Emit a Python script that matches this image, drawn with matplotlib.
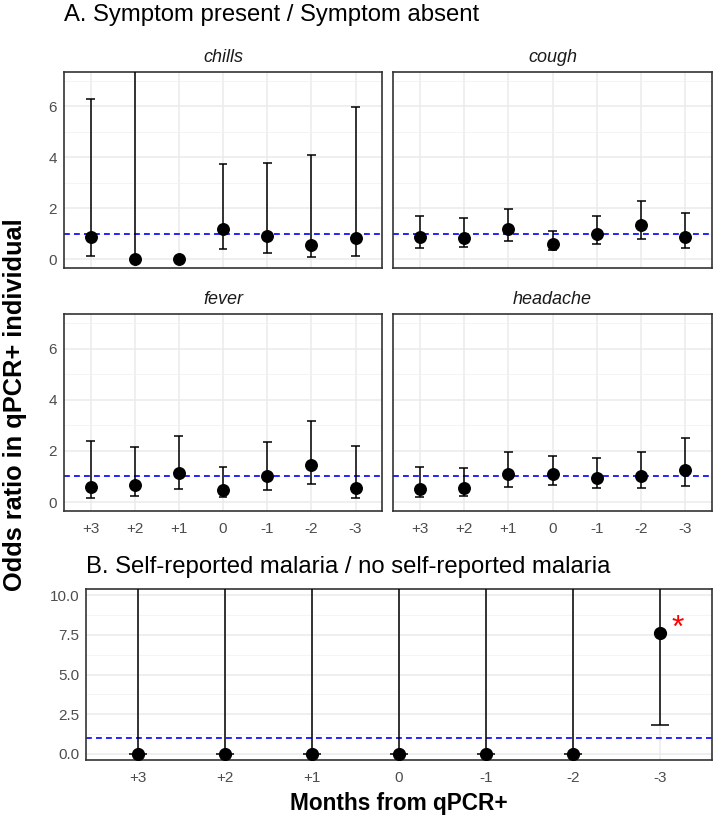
import numpy as np
import matplotlib.pyplot as plt

plt.rcParams['font.family'] = ['Liberation Sans', 'DejaVu Sans']

months = ["+3", "+2", "+1", "0", "-1", "-2", "-3"]

# odds ratio, lower CI, upper CI (inf = runs off the panel, nan = no interval)
chills_or = [0.87, 0.0, 0.0, 1.18, 0.92, 0.56, 0.82]
chills_lo = [0.14, 0.0, np.nan, 0.40, 0.23, 0.10, 0.14]
chills_hi = [6.30, np.inf, np.nan, 3.72, 3.78, 4.08, 5.96]

cough_or = [0.85, 0.83, 1.18, 0.61, 1.00, 1.32, 0.85]
cough_lo = [0.43, 0.46, 0.72, 0.36, 0.59, 0.77, 0.43]
cough_hi = [1.69, 1.61, 1.98, 1.09, 1.71, 2.28, 1.80]

fever_or = [0.58, 0.67, 1.14, 0.49, 1.02, 1.46, 0.54]
fever_lo = [0.16, 0.23, 0.52, 0.21, 0.47, 0.70, 0.16]
fever_hi = [2.37, 2.14, 2.60, 1.36, 2.34, 3.16, 2.18]

headache_or = [0.51, 0.56, 1.09, 1.11, 0.93, 1.02, 1.26]
headache_lo = [0.19, 0.23, 0.60, 0.67, 0.53, 0.54, 0.62]
headache_hi = [1.37, 1.33, 1.96, 1.81, 1.71, 1.97, 2.49]

malaria_or = [0.0, 0.0, 0.0, 0.0, 0.0, 0.0, 7.65]
malaria_lo = [0.0, 0.0, 0.0, 0.0, 0.0, 0.0, 1.80]
malaria_hi = [np.inf] * 7

W, H = 716, 816
fig = plt.figure(figsize=(W / 100, H / 100), dpi=100)


def rect(l, t, r, b):
    return [l / W, 1 - b / H, (r - l) / W, (b - t) / H]


def draw_panel(ax, est, lo, hi, ylim, yticks, yminor, ylabels, xlabels, ms):
    x = np.arange(1, len(months) + 1)
    top = ylim[1] + 1
    for xi, l, h in zip(x, lo, hi):
        if np.isnan(h):
            continue
        hh = min(h, top)
        ax.vlines(xi, l, hh, color='black', lw=1.1, zorder=3)
        ax.hlines([l, hh], xi - 0.1, xi + 0.1, color='black', lw=1.1, zorder=3)
    ax.plot(x, est, 'o', color='black', ms=ms, zorder=4)
    ax.axhline(1, color='blue', ls=(0, (3.5, 2.5)), lw=1.2, zorder=2)
    ax.set_xlim(0.4, 7.6)
    ax.set_ylim(*ylim)
    ax.set_xticks(x)
    ax.set_yticks(yticks)
    ax.set_yticks(yminor, minor=True)
    ax.grid(which='major', color='#EBEBEB', lw=1.1, zorder=0)
    ax.grid(which='minor', axis='y', color='#F2F2F2', lw=0.6, zorder=0)
    ax.set_axisbelow(True)
    ax.tick_params(which='both', length=0, labelsize=11, labelcolor='#4D4D4D', pad=5)
    ax.tick_params(axis='x', pad=8)
    ax.set_xticklabels(months if xlabels else [])
    ax.set_yticklabels(ylabels if ylabels else [])
    for s in ax.spines.values():
        s.set_color('#333333')
        s.set_linewidth(1.2)


ylimA = (-0.35, 7.35)
panels = [
    ("chills", chills_or, chills_lo, chills_hi, (64, 72, 382, 268), True, False),
    ("cough", cough_or, cough_lo, cough_hi, (393, 72, 712, 268), False, False),
    ("fever", fever_or, fever_lo, fever_hi, (64, 314, 382, 511), True, True),
    ("headache", headache_or, headache_lo, headache_hi, (393, 314, 712, 511), False, True),
]
for name, est, lo, hi, box, show_y, show_x in panels:
    ax = fig.add_axes(rect(*box))
    draw_panel(ax, est, lo, hi, ylimA, [0, 2, 4, 6], [1, 3, 5, 7],
               ["0", "2", "4", "6"] if show_y else None, show_x, 8.3)
    ax.set_title(name, fontsize=13, style='italic', color='#1A1A1A', pad=7)

axB = fig.add_axes(rect(86, 589, 712, 760))
draw_panel(axB, malaria_or, malaria_lo, malaria_hi, (-0.4, 10.4),
           [0, 2.5, 5, 7.5, 10], [1.25, 3.75, 6.25, 8.75],
           ["0.0", "2.5", "5.0", "7.5", "10.0"], True, 8.5)
axB.text(7.2, 7.85, "*", color='red', fontsize=23, ha='center', va='center')
axB.set_xlabel("Months from qPCR+", fontsize=16.3, fontweight='bold', labelpad=5)

fig.text(64 / W, 1 - 15 / H, "A. Symptom present / Symptom absent",
         fontsize=17.2, ha='left', va='center')
fig.text(86 / W, 1 - 567 / H, "B. Self-reported malaria / no self-reported malaria",
         fontsize=17.2, ha='left', va='center')
fig.text(15 / W, 1 - 405 / H, "Odds ratio in qPCR+ individual",
         fontsize=18.3, fontweight='bold', rotation=90, ha='center', va='center')

fig.savefig("out.png", dpi=100)
